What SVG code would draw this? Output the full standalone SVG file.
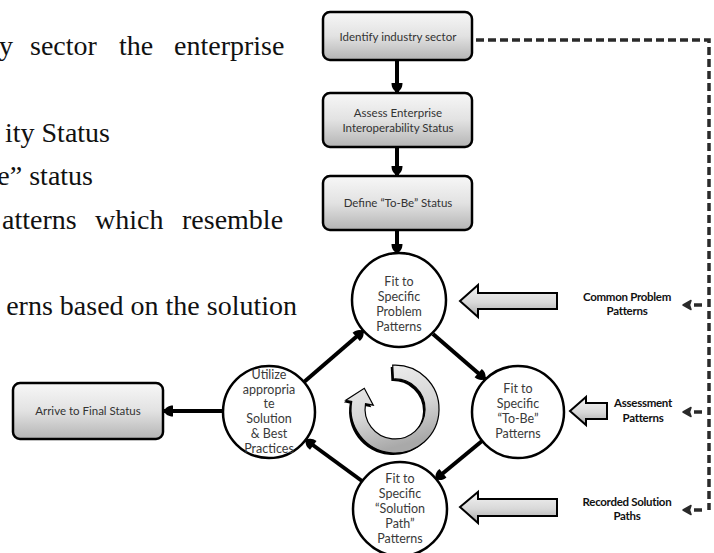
<svg xmlns="http://www.w3.org/2000/svg" width="714" height="553" viewBox="0 0 714 553">
  <defs>
    <linearGradient id="boxFill" x1="0" y1="0" x2="0" y2="1">
      <stop offset="0" stop-color="#f7f7f7"/>
      <stop offset="0.5" stop-color="#e2e2e2"/>
      <stop offset="1" stop-color="#b4b4b4"/>
    </linearGradient>
    <linearGradient id="arrowFill" x1="0" y1="0" x2="0" y2="1">
      <stop offset="0" stop-color="#f4f4f4"/>
      <stop offset="0.55" stop-color="#d8d8d8"/>
      <stop offset="1" stop-color="#a8a8a8"/>
    </linearGradient>
    <linearGradient id="cycleFill" x1="0" y1="0" x2="0.3" y2="1">
      <stop offset="0" stop-color="#f2f2f2"/>
      <stop offset="0.6" stop-color="#d6d6d6"/>
      <stop offset="1" stop-color="#a9a9a9"/>
    </linearGradient>
    <marker id="head" viewBox="-10 -6 11 12" refX="0" refY="0" markerWidth="11" markerHeight="12" markerUnits="userSpaceOnUse" orient="auto">
      <path d="M0,0 C-1,-3 -4,-5.5 -9,-5.5 L-9,5.5 C-4,5.5 -1,3 0,0 Z" fill="#000"/>
    </marker>
    <!-- small left-pointing tip used where the feed line branches off -->
    <path id="tapTip" d="M0,0 L8,-4.5 L6.5,0 L8,4.5 Z" fill="#2a2a2a" stroke="#2a2a2a" stroke-width="1.5" stroke-linejoin="round"/>
  </defs>
  <style>
    .page { font-family: "Liberation Serif", "Times New Roman", serif; font-size: 28px; fill: #111; }
    .box rect.shape { fill: url(#boxFill); stroke: #000; stroke-width: 2.5; }
    .box text { font-family: Lato, "Open Sans", sans-serif; font-size: 11.5px; fill: #333; text-anchor: middle; }
    .step circle { fill: #fff; stroke: #000; stroke-width: 2.5; }
    .step text { font-family: Lato, "Open Sans", sans-serif; font-size: 12.5px; fill: #3a3a3a; text-anchor: middle; }
    .source text { font-family: Lato, "Open Sans", sans-serif; font-size: 11.5px; font-weight: bold; fill: #111; text-anchor: middle; letter-spacing: -0.3px; }
    .block { fill: url(#arrowFill); stroke: #000; stroke-width: 2; stroke-linejoin: miter; }
    .flow { stroke: #000; stroke-width: 4; fill: none; marker-end: url(#head); }
    .feed { stroke: #2a2a2a; stroke-width: 3.5; fill: none; stroke-dasharray: 8 4; }
    .dash { stroke: #2a2a2a; stroke-width: 3.5; fill: none; }
  </style>

  <rect width="714" height="553" fill="#fff"/>

  <!-- body text of the page running behind the figure -->
  <g id="page-text" class="page">
    <text x="-1" y="55">y</text>
    <text x="30" y="55">sector</text>
    <text x="119" y="55">the</text>
    <text x="174" y="55">enterprise</text>
    <text x="110" y="142" text-anchor="end">ity Status</text>
    <text x="93" y="185" text-anchor="end">e” status</text>
    <text x="2" y="229">atterns</text>
    <text x="95" y="229">which</text>
    <text x="182" y="229">resemble</text>
    <text x="297" y="315" text-anchor="end">erns based on the solution</text>
  </g>

  <!-- connectors -->
  <g id="connectors">
    <path class="feed" d="M476,40 H709 V510"/>
    <line class="dash" x1="694" y1="305" x2="702" y2="305"/>
    <use href="#tapTip" x="683" y="305"/>
    <line class="dash" x1="694" y1="412" x2="702" y2="412"/>
    <use href="#tapTip" x="683" y="412"/>
    <line class="dash" x1="694" y1="510" x2="702" y2="510"/>
    <use href="#tapTip" x="683" y="510"/>
    <line class="flow" x1="397" y1="61" x2="397" y2="92"/>
    <line class="flow" x1="397" y1="148" x2="397" y2="175"/>
    <line class="flow" x1="397" y1="231" x2="397" y2="253"/>
    <line class="flow" x1="433" y1="334" x2="485" y2="379"/>
    <line class="flow" x1="482" y1="441" x2="436" y2="479"/>
    <line class="flow" x1="362" y1="481" x2="306" y2="440"/>
    <line class="flow" x1="304" y1="382" x2="363" y2="331"/>
    <line class="flow" x1="223" y1="411" x2="164" y2="411"/>
    <path class="block" d="M460,301 L478,285 L478,293 L557,293 L557,309 L478,309 L478,317 Z"/>
    <path class="block" d="M570,411 L586,397 L586,403 L607,403 L607,419 L586,419 L586,425 Z"/>
    <path class="block" d="M460,507 L478,492 L478,499 L557,499 L557,516 L478,516 L478,523 Z"/>
  </g>

  <!-- linear steps -->
  <g id="identify" class="box">
    <rect class="shape" x="323" y="12" width="149" height="48" rx="7"/>
    <text x="398" y="41">Identify industry sector</text>
  </g>
  <g id="assess" class="box">
    <rect class="shape" x="323" y="93" width="149" height="54" rx="7"/>
    <text x="398" y="117">Assess Enterprise</text>
    <text x="398" y="132">Interoperability Status</text>
  </g>
  <g id="define" class="box">
    <rect class="shape" x="323" y="176" width="149" height="54" rx="7"/>
    <text x="398" y="207">Define “To-Be” Status</text>
  </g>
  <g id="final" class="box">
    <rect class="shape" x="13" y="383" width="150" height="56" rx="7"/>
    <text x="88" y="415">Arrive to Final Status</text>
  </g>

  <!-- pattern-matching cycle -->
  <g id="fit-problem" class="step">
    <circle cx="399" cy="300" r="47"/>
    <text x="399" y="286">Fit to</text>
    <text x="399" y="301">Specific</text>
    <text x="399" y="316">Problem</text>
    <text x="399" y="331">Patterns</text>
  </g>
  <g id="fit-tobe" class="step">
    <circle cx="518" cy="412" r="46"/>
    <text x="518" y="393">Fit to</text>
    <text x="518" y="408">Specific</text>
    <text x="518" y="423">“To-Be”</text>
    <text x="518" y="438">Patterns</text>
  </g>
  <g id="fit-solution" class="step">
    <circle cx="400" cy="509" r="47"/>
    <text x="400" y="483">Fit to</text>
    <text x="400" y="498">Specific</text>
    <text x="400" y="513">“Solution</text>
    <text x="400" y="528">Path”</text>
    <text x="400" y="543">Patterns</text>
  </g>
  <g id="utilize" class="step">
    <circle cx="269" cy="412" r="46"/>
    <text x="269" y="379">Utilize</text>
    <text x="269" y="394">appropria</text>
    <text x="269" y="408">te</text>
    <text x="269" y="423">Solution</text>
    <text x="269" y="438">&amp; Best</text>
    <text x="269" y="453">Practices</text>
  </g>

  <!-- cycle symbol -->
  <g id="cycle">
    <path d="M392.7,365.1 A44,44 0 1 1 351.7,401.4 L345.8,400.3 L364.3,388.3 L373.3,405.2 L365.5,403.8 A30,30 0 1 0 393.4,379 Z" fill="#000" transform="translate(-2,2)"/>
    <path d="M392.7,365.1 A44,44 0 1 1 351.7,401.4 L345.8,400.3 L364.3,388.3 L373.3,405.2 L365.5,403.8 A30,30 0 1 0 393.4,379 Z" fill="url(#cycleFill)" stroke="#000" stroke-width="1.2"/>
  </g>

  <!-- pattern sources -->
  <g id="common-problem" class="source">
    <text x="627" y="301">Common Problem</text>
    <text x="627" y="315">Patterns</text>
  </g>
  <g id="assessment" class="source">
    <text x="643" y="407">Assessment</text>
    <text x="643" y="422">Patterns</text>
  </g>
  <g id="recorded" class="source">
    <text x="627" y="506">Recorded Solution</text>
    <text x="627" y="520">Paths</text>
  </g>
</svg>
